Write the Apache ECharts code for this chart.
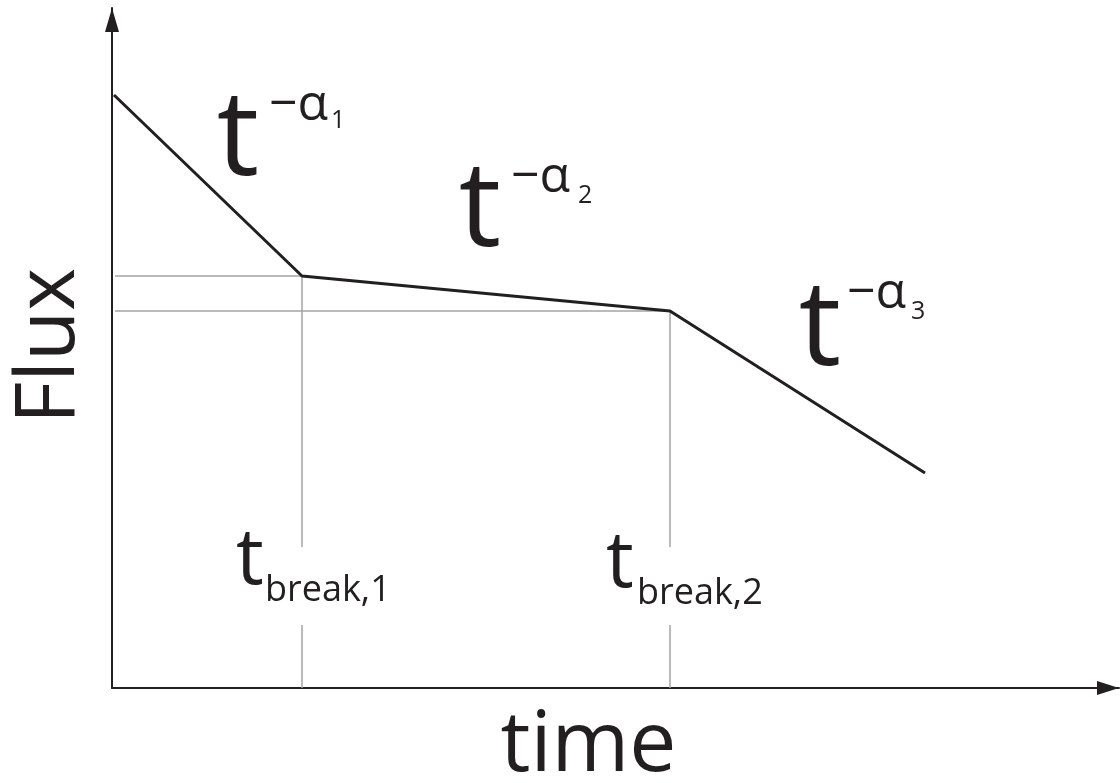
<!DOCTYPE html>
<html>
<head>
<meta charset="utf-8">
<title>Flux vs time</title>
<script src="https://cdn.jsdelivr.net/npm/echarts@6/dist/echarts.min.js"></script>
<style>
  html, body { margin: 0; padding: 0; background: #fff; }
</style>
</head>
<body>
<div id="main" style="width:1120px;height:783px;"></div>
<script type="text/javascript">
// broken power law, arbitrary units (x: time, y: flux)
var fluxTime = [2, 190, 558, 813];
var fluxValue = [593, 412, 377, 215];

// grey guide lines at the two breaks
var breakTime = [190, 558];
var breakFlux = [412, 377];
var guideStart = 3;          // horizontal guides start just right of the y axis
var gapTop = 141, gapBottom = 63;   // vertical guides are cut where the labels sit

var fontFam = '"Open Sans", "DejaVu Sans", sans-serif';
var ink = '#231f20';
var grey = '#a3a3a3';

var chart = echarts.init(document.getElementById('main'));

var lineData = [];
for (var i = 0; i < fluxTime.length; i++) {
    lineData.push([fluxTime[i], fluxValue[i]]);
}

var guideSeries = [];
for (var j = 0; j < breakTime.length; j++) {
    guideSeries.push({
        type: 'line',
        silent: true,
        symbol: 'none',
        z: 1,
        lineStyle: { color: grey, width: 1.5 },
        data: [[guideStart, breakFlux[j]], [breakTime[j], breakFlux[j]]]
    });
    guideSeries.push({
        type: 'line',
        silent: true,
        symbol: 'none',
        z: 1,
        connectNulls: false,
        lineStyle: { color: grey, width: 1.5 },
        data: [[breakTime[j], breakFlux[j]], [breakTime[j], gapTop], '-',
               [breakTime[j], gapBottom], [breakTime[j], 0]]
    });
}

function label(x, y, txt, size, align) {
    return {
        type: 'text',
        x: x, y: y,
        silent: true,
        style: {
            text: txt,
            fontSize: size,
            fontFamily: fontFam,
            fill: ink,
            align: align || 'center',
            verticalAlign: 'middle'
        }
    };
}

var option = {
    animation: false,
    grid: { left: 112, right: 1, top: 8, bottom: 95, outerBoundsMode: 'none', containLabel: false },
    xAxis: {
        type: 'value',
        min: 0,
        max: 1007,
        name: 'time',
        nameLocation: 'middle',
        nameGap: 17,
        nameTextStyle: { fontSize: 84, fontFamily: fontFam, color: ink, padding: [0, 54, 0, 0] },
        axisLine: { show: true, symbol: ['none', 'triangle'], symbolSize: [14, 22],
                    symbolOffset: [0, -11],
                    lineStyle: { color: ink, width: 2 } },
        axisTick: { show: false },
        axisLabel: { show: false },
        splitLine: { show: false }
    },
    yAxis: {
        type: 'value',
        min: 0,
        max: 680,
        name: 'Flux',
        nameLocation: 'middle',
        nameGap: 20,
        nameTextStyle: { fontSize: 82, fontFamily: fontFam, color: ink, padding: [0, 0, 0, 4] },
        axisLine: { show: true, symbol: ['none', 'triangle'], symbolSize: [14, 24],
                    symbolOffset: [0, -12],
                    lineStyle: { color: ink, width: 2 } },
        axisTick: { show: false },
        axisLabel: { show: false },
        splitLine: { show: false }
    },
    series: guideSeries.concat([{
        type: 'line',
        symbol: 'none',
        z: 3,
        lineStyle: { color: ink, width: 3 },
        data: lineData
    }]),
    graphic: [
        label(238, 141, 't', 119),
        label(269, 106, '\u2212\u03b1', 50, 'left'),
        label(331, 121, '1', 25, 'left'),

        label(480, 212, 't', 119),
        label(511, 178, '\u2212\u03b1', 50, 'left'),
        label(578, 196, '2', 25, 'left'),

        label(820, 331, 't', 119),
        label(847, 294, '\u2212\u03b1', 50, 'left'),
        label(911, 312, '3', 25, 'left'),

        label(250, 562, 't', 78),
        label(265, 591, 'break,1', 36, 'left'),
        label(620, 565, 't', 78),
        label(637, 594, 'break,2', 36, 'left')
    ]
};

chart.setOption(option);
</script>
</body>
</html>
